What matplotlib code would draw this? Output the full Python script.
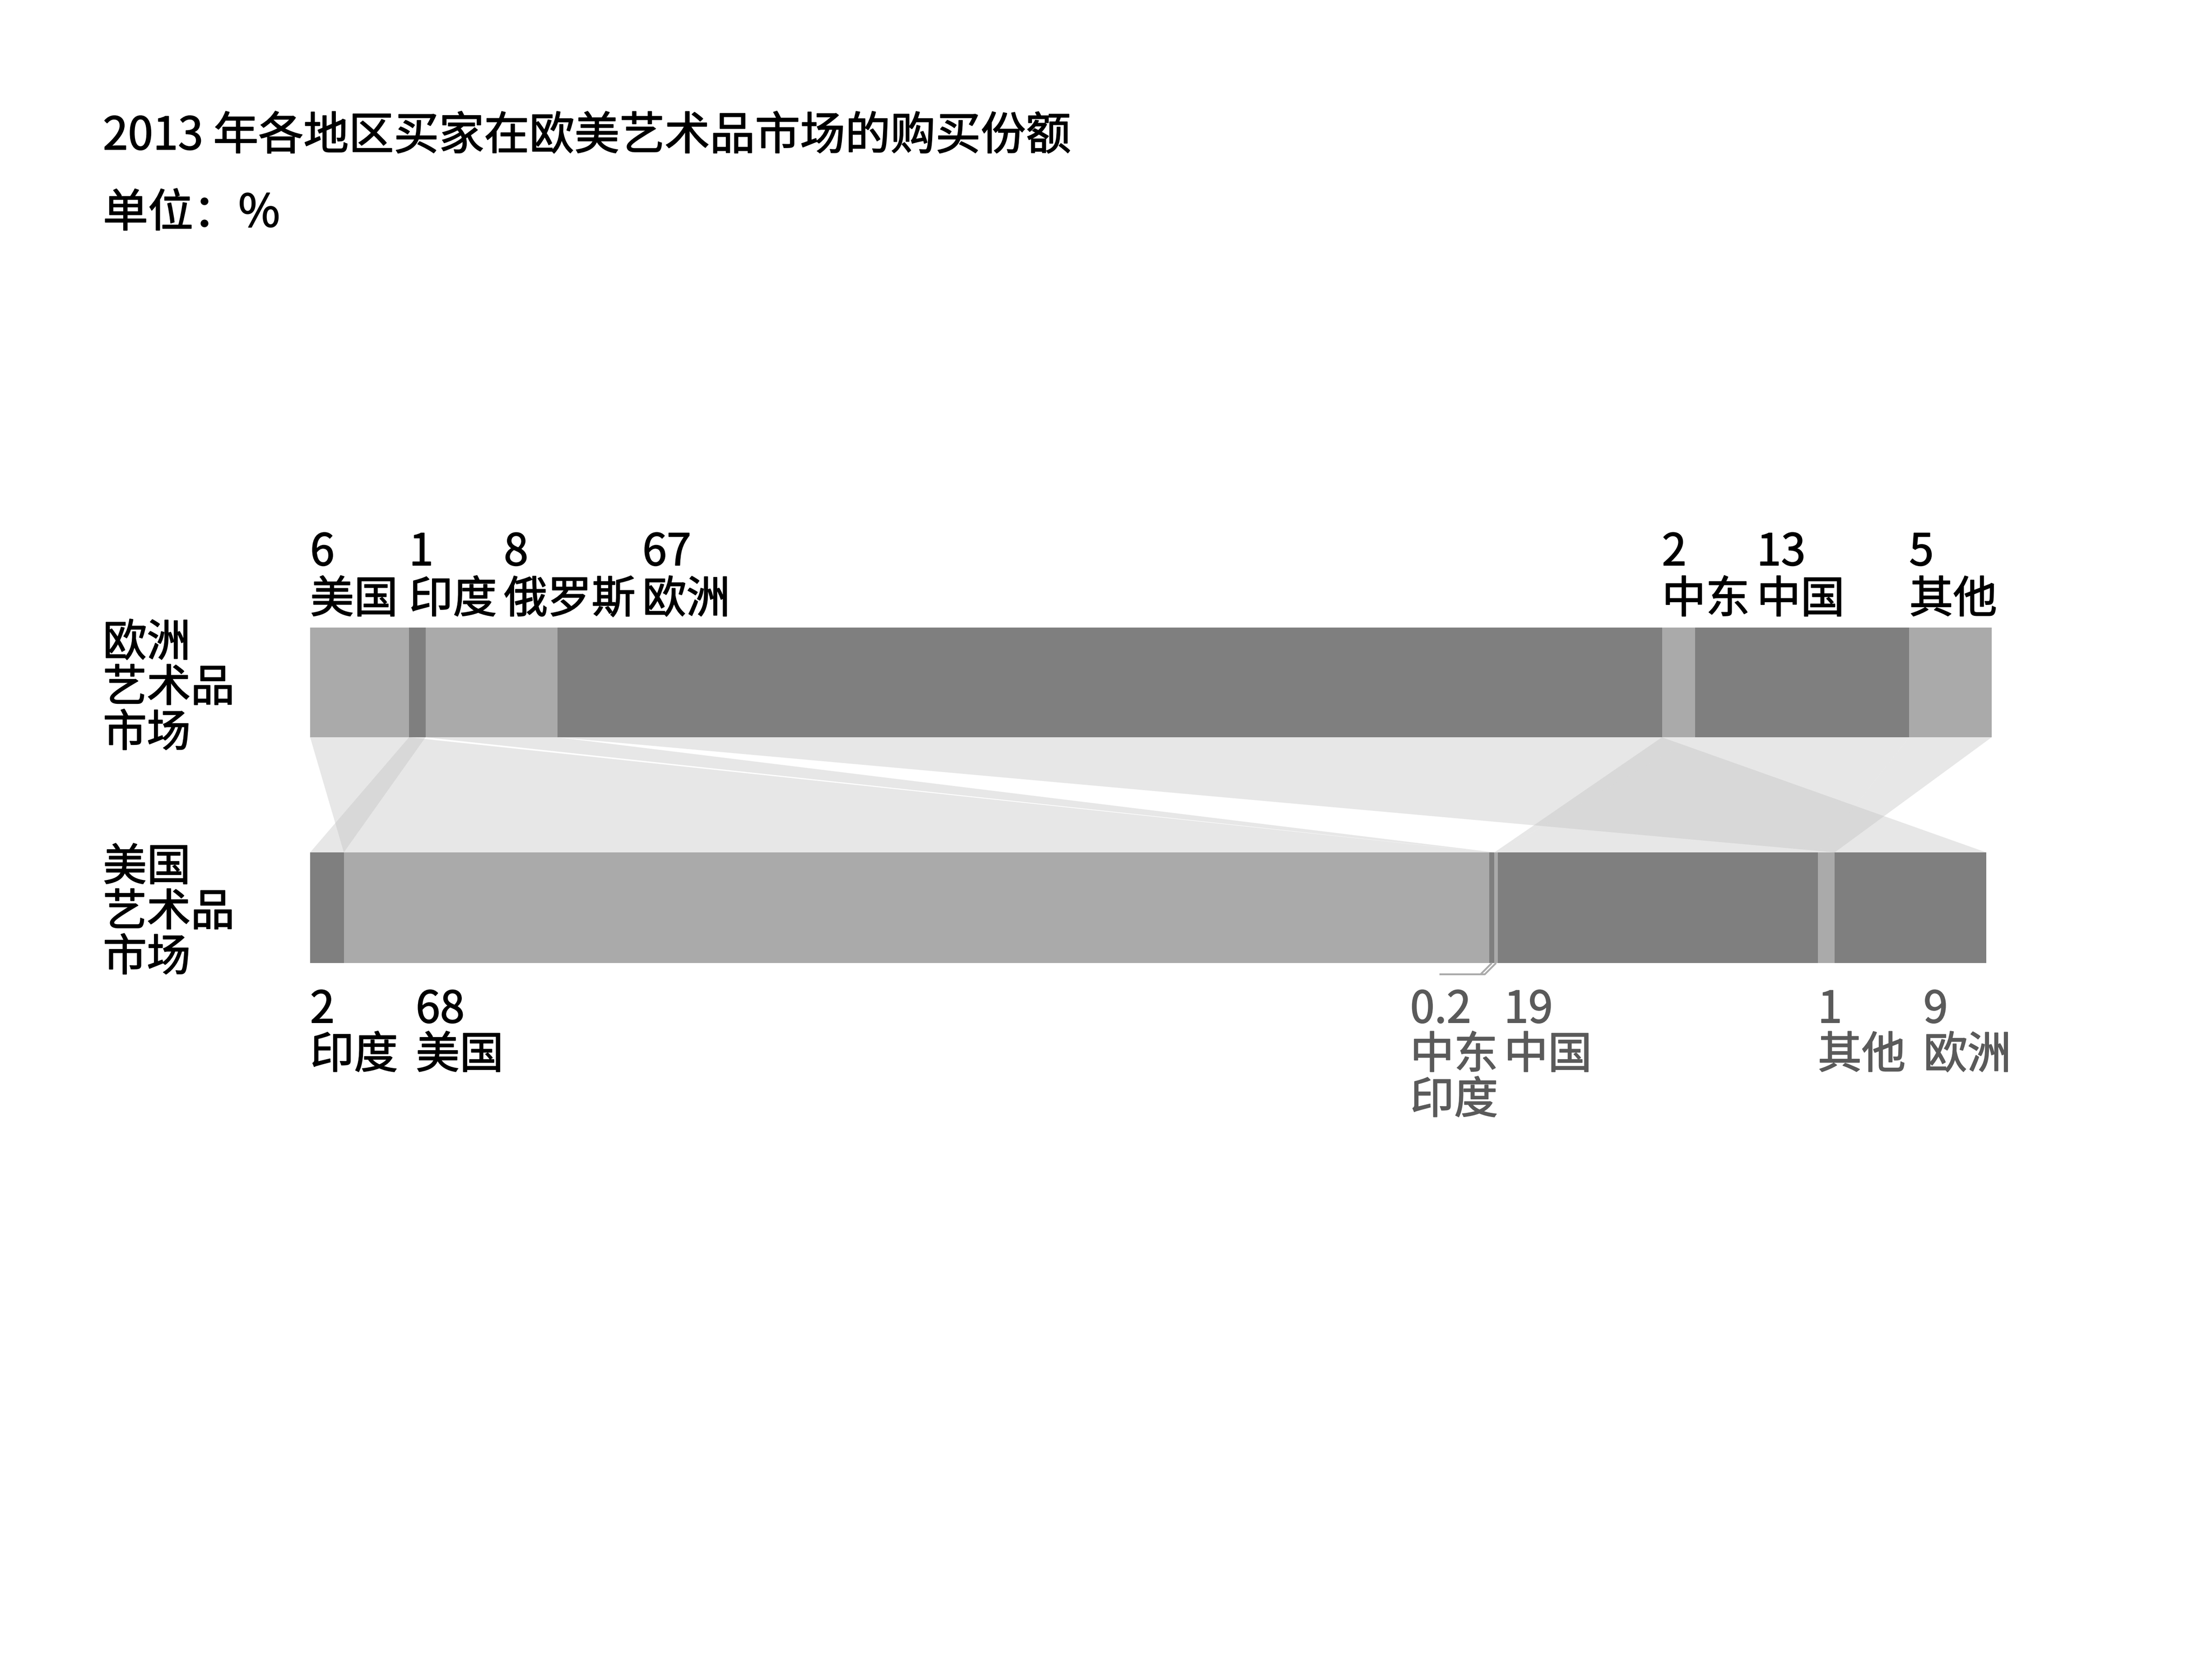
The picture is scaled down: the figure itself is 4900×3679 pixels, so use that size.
import matplotlib
matplotlib.use('Agg')
import matplotlib.pyplot as plt
import matplotlib.patheffects as pe
from matplotlib.patches import Polygon
import numpy as np

plt.rcParams['font.family'] = ['Noto Sans CJK SC', 'DejaVu Sans']

# ---------------- data ----------------
title = '2013 年各地区买家在欧美艺术品市场的购买份额'
unit = '单位：%'
top_market = ['欧洲', '艺术品', '市场']
bottom_market = ['美国', '艺术品', '市场']

top_regions = ['美国', '印度', '俄罗斯', '欧洲', '中东', '中国', '其他']
top_values = [6, 1, 8, 67, 2, 13, 5]
top_value_labels = ['6', '1', '8', '67', '2', '13', '5']
top_name_labels = ['美国', '印度', '俄罗斯', '欧洲', '中东', '中国', '其他']

bottom_regions = ['印度', '美国', '俄罗斯', '中东', '中国', '其他', '欧洲']
bottom_values = [2, 68, 0.3, 0.2, 19, 1, 9]
bottom_value_labels = ['2', '68', '', '0.2', '19', '1', '9']
bottom_name_labels = ['印度', '美国', '', '中东\n印度', '中国', '其他', '欧洲']

# ---------------- layout / style ----------------
W, H, DPI = 4900, 3680, 100
X0 = 687            # pixel of 0 %
PX = 37.25          # pixels per percent
TOP_Y0, TOP_Y1 = 1391, 1634
BOT_Y0, BOT_Y1 = 1889, 2134
BOT_WIDTH = 3713 / 3725   # bottom bar drawn slightly shorter
DARK, LIGHT = '#7f7f7f', '#aaaaaa'
FLOW = (0.74, 0.74, 0.74, 0.35)
FS = 70
FS_TITLE = 72
EM = 97 / PX        # one CJK em in percent units
GAP_TOP = 16 / PX
GAP_BOT = 40 / PX
GAP_AFTER_TINY = 14 / PX
LINE = 100          # line step in pixels
GREY_TXT = '#5a5a5a'
LEFT_TXT = 228


def txt(x, y, s, color='black', fs=FS):
    ax.text(x, y, s, fontsize=fs, ha='left', va='baseline', color=color,
            path_effects=[pe.withStroke(linewidth=1.4, foreground=color)])


fig = plt.figure(figsize=(W / DPI, H / DPI), dpi=DPI)
ax = fig.add_axes([0, 0, 1, 1])
ax.set_xlim(-X0 / PX, (W - X0) / PX)
ax.set_ylim(H, 0)
ax.axis('off')


def layout(vals, scale=1.0):
    v = np.asarray(vals, float)
    p = v / v.sum() * 100 * scale
    left = np.concatenate([[0], np.cumsum(p)[:-1]])
    return left, p


tl, tw = layout(top_values)
bl, bw = layout(bottom_values, BOT_WIDTH)

top_colors = [LIGHT if i % 2 == 0 else DARK for i in range(len(top_values))]
bot_colors = [DARK if i % 2 == 0 else LIGHT for i in range(len(bottom_values))]

ax.barh((TOP_Y0 + TOP_Y1) / 2, tw, left=tl, height=TOP_Y1 - TOP_Y0,
        color=top_colors, linewidth=0)
ax.barh((BOT_Y0 + BOT_Y1) / 2, bw, left=bl, height=BOT_Y1 - BOT_Y0,
        color=bot_colors, linewidth=0)

# flows between the same buyer region in both markets
for i, r in enumerate(top_regions):
    if r not in bottom_regions:
        continue
    j = bottom_regions.index(r)
    poly = Polygon([(tl[i], TOP_Y1), (tl[i] + tw[i], TOP_Y1),
                    (bl[j] + bw[j], BOT_Y0), (bl[j], BOT_Y0)],
                   closed=True, facecolor=FLOW, edgecolor='none', linewidth=0)
    ax.add_patch(poly)

xl = (LEFT_TXT - X0) / PX
# titles
txt(xl, 332, title, fs=FS_TITLE)
txt(xl, 503, unit, fs=FS_TITLE)

# market labels
for k, s in enumerate(top_market):
    txt(xl, 1454 + k * LINE, s)
for k, s in enumerate(bottom_market):
    txt(xl, 1951 + k * LINE, s)

# top labels
prev_end = -1e9
for i in range(len(top_values)):
    name = top_name_labels[i]
    x = max(tl[i], prev_end + GAP_TOP)
    txt(x, 1253, top_value_labels[i])
    txt(x, 1358, name)
    prev_end = x + len(name) * EM

# bottom labels
prev_end = -1e9
gap = GAP_BOT
tiny = [i for i in range(len(bottom_values)) if bw[i] < 0.5]
for i in range(len(bottom_values)):
    if bottom_value_labels[i] == '':
        continue
    lines = bottom_name_labels[i].split('\n')
    width = max(len(s) for s in lines) * EM
    col = 'black' if i < 2 else GREY_TXT
    if i in tiny:
        x = bl[i] + bw[i] - width
        yl = BOT_Y1 + 25
        for t in tiny:
            xc = bl[t] + bw[t] / 2
            ax.plot([xc, xc - 25 / PX, x + 65 / PX], [BOT_Y1, yl, yl],
                    color=LIGHT, lw=2.9, solid_joinstyle='miter', solid_capstyle='butt')
        next_gap = GAP_AFTER_TINY
    else:
        x = max(bl[i], prev_end + gap)
        next_gap = GAP_BOT
    txt(x, 2266, bottom_value_labels[i], color=col)
    for k, s in enumerate(lines):
        txt(x, 2367 + k * LINE, s, color=col)
    prev_end = x + width
    gap = next_gap

fig.savefig('out.png', dpi=DPI, facecolor='white')
